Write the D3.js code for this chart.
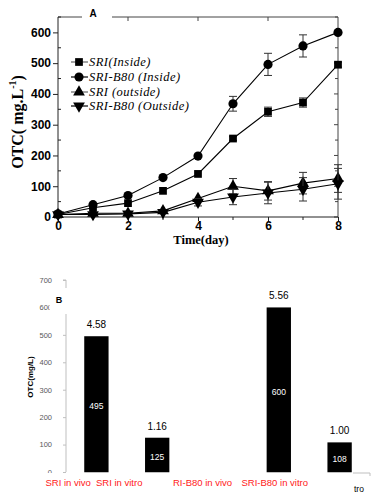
<!DOCTYPE html>
<html>
<head>
<meta charset="utf-8">
<script src="https://cdn.jsdelivr.net/npm/d3@7/dist/d3.min.js"></script>
<style>
  html, body { margin: 0; padding: 0; background: #fff; }
  svg { display: block; }
</style>
</head>
<body>
<svg id="chart" width="377" height="500"></svg>
<script>
// Panel A: OTC over time
const days = [0, 1, 2, 3, 4, 5, 6, 7, 8];
const sriInside = [8, 30, 45, 85, 140, 255, 342, 372, 495];
const sriInsideErr = [0, 0, 0, 0, 0, 6, 15, 15, 8];
const b80Inside = [10, 40, 70, 128, 198, 368, 496, 556, 600];
const b80InsideErr = [0, 0, 0, 0, 0, 24, 36, 36, 0];
const sriOutside = [8, 12, 12, 20, 60, 100, 85, 110, 125];
const sriOutsideErr = [0, 0, 0, 0, 0, 25, 30, 35, 45];
const b80Outside = [8, 8, 10, 15, 48, 65, 78, 90, 108];
const b80OutsideErr = [0, 0, 0, 0, 12, 25, 35, 38, 50];
const seriesNames = ['SRI(Inside)', 'SRI-B80 (Inside)', 'SRI (outside)', 'SRI-B80 (Outside)'];

// Panel B: bars
const barSlots = ['SRI in vivo', 'SRI in vitro', 'SRI-B80 in vivo', 'SRI-B80 in vitro (a)', 'SRI-B80 in vitro (b)'];
const barValues = [495, 125, null, 600, 108];
const barRatios = ['4.58', '1.16', null, '5.56', '1.00'];
const redLabels = ['SRI in vivo', 'SRI in vitro', 'RI-B80 in vivo', 'SRI-B80 in vitro'];
const yTicksB = [0, 100, 200, 300, 400, 500, 600, 700];

const svg = d3.select('#chart');

// ---------- Panel A ----------
const gA = svg.append('g');
const x = d3.scaleLinear().domain([0, 8]).range([58, 338]);
const y = d3.scaleLinear().domain([0, 650]).range([217, 17]);

const series = [
  { name: seriesNames[0], vals: sriInside, err: sriInsideErr, sym: d3.symbolSquare, size: 60, rot: 0, legendStroke: '#666' },
  { name: seriesNames[1], vals: b80Inside, err: b80InsideErr, sym: d3.symbolCircle, size: 66, rot: 0, legendStroke: '#000' },
  { name: seriesNames[2], vals: sriOutside, err: sriOutsideErr, sym: d3.symbolTriangle, size: 60, rot: 0, legendStroke: '#666' },
  { name: seriesNames[3], vals: b80Outside, err: b80OutsideErr, sym: d3.symbolTriangle, size: 60, rot: 180, legendStroke: '#000' },
];

// frame: top and right
gA.append('path')
  .attr('d', `M${x(0)},${y(650)}H82M112,${y(650)}H${x(8)}V${y(0)}`)
  .attr('fill', 'none').attr('stroke', '#444').attr('stroke-width', 1);

// right inner ticks
d3.range(0, 651, 50).forEach((v) => {
  gA.append('line')
    .attr('x1', x(8)).attr('x2', x(8) - (v % 100 === 0 ? 4 : 3))
    .attr('y1', y(v)).attr('y2', y(v))
    .attr('stroke', '#444');
});
// top inner ticks
[2, 4, 6].forEach((d) => {
  gA.append('line')
    .attr('x1', x(d)).attr('x2', x(d))
    .attr('y1', y(650)).attr('y2', y(650) + 4)
    .attr('stroke', '#444');
});

const axisLeft = d3.axisLeft(y).tickValues(d3.range(0, 601, 100)).tickSize(5).tickPadding(2);
const gyA = gA.append('g').attr('transform', `translate(${x(0)},0)`).call(axisLeft);
gyA.select('.domain').attr('d', `M0,${y(0)}V${y(650)}`).attr('stroke', '#222');
gyA.selectAll('.tick line').attr('stroke', '#222');
gyA.selectAll('.tick text')
  .attr('font-family', 'Liberation Sans, Arial, sans-serif')
  .attr('font-weight', 'bold').attr('font-size', 12).attr('fill', '#000');
d3.range(50, 651, 100).forEach((v) => {
  gA.append('line').attr('x1', x(0)).attr('x2', x(0) + 3)
    .attr('y1', y(v)).attr('y2', y(v)).attr('stroke', '#222');
});

const axisBottom = d3.axisBottom(x).tickValues([0, 2, 4, 6, 8]).tickSize(4).tickPadding(0).tickFormat(d3.format('d'));
const gxA = gA.append('g').attr('transform', `translate(0,${y(0)})`).call(axisBottom);
gxA.select('.domain').attr('d', `M${x(0)},0H${x(8)}`).attr('stroke', '#222');
gxA.selectAll('.tick line').attr('stroke', '#222');
gxA.selectAll('.tick text')
  .attr('font-family', 'Liberation Sans, Arial, sans-serif')
  .attr('font-weight', 'bold').attr('font-size', 12).attr('fill', '#000');
[1, 3, 5, 7].forEach((d) => {
  gA.append('line').attr('x1', x(d)).attr('x2', x(d))
    .attr('y1', y(0)).attr('y2', y(0) + 3).attr('stroke', '#222');
});

gA.append('text')
  .attr('x', 93).attr('y', 17)
  .attr('text-anchor', 'middle')
  .attr('font-family', 'Liberation Sans, Arial, sans-serif')
  .attr('font-weight', 'bold').attr('font-size', 10)
  .text('A');

// axis titles
const yTitle = gA.append('text')
  .attr('transform', 'translate(23,122) rotate(-90)')
  .attr('text-anchor', 'middle')
  .attr('font-family', 'Liberation Serif, Times New Roman, serif')
  .attr('font-weight', 'bold').attr('font-size', 16);
yTitle.append('tspan').text('OTC( mg.L');
yTitle.append('tspan').attr('font-size', 10).attr('dy', -7).text('-1');
yTitle.append('tspan').attr('dy', 7).text(')');

gA.append('text')
  .attr('x', 201).attr('y', 244)
  .attr('text-anchor', 'middle')
  .attr('font-family', 'Liberation Serif, Times New Roman, serif')
  .attr('font-weight', 'bold').attr('font-size', 12.5)
  .text('Time(day)');

const line = d3.line().x((d, i) => x(days[i])).y(d => y(d));

series.forEach((s) => {
  // error bars
  s.vals.forEach((v, i) => {
    const e = s.err[i];
    if (!e) return;
    const cx = x(days[i]);
    gA.append('path')
      .attr('d', `M${cx},${y(v - e)}V${y(v + e)}M${cx - 4},${y(v + e)}H${cx + 4}M${cx - 4},${y(v - e)}H${cx + 4}`)
      .attr('fill', 'none').attr('stroke', '#333').attr('stroke-width', 1);
  });
  gA.append('path')
    .datum(s.vals)
    .attr('d', line)
    .attr('fill', 'none').attr('stroke', '#000').attr('stroke-width', 1.1);
  gA.selectAll(null)
    .data(s.vals)
    .enter().append('path')
      .attr('d', d3.symbol().type(s.sym).size(s.size))
      .attr('transform', (d, i) => `translate(${x(days[i])},${y(d)}) rotate(${s.rot})`)
      .attr('fill', '#000');
});

// legend
const legendRows = [62, 77, 92, 106];
series.forEach((s, i) => {
  const ly = legendRows[i];
  gA.append('line').attr('x1', 71).attr('x2', 88).attr('y1', ly).attr('y2', ly)
    .attr('stroke', s.legendStroke).attr('stroke-width', 1.2);
  gA.append('path')
    .attr('d', d3.symbol().type(s.sym).size(s.size))
    .attr('transform', `translate(79,${ly}) rotate(${s.rot})`)
    .attr('fill', '#000');
  gA.append('text')
    .attr('x', 89).attr('y', ly + 4)
    .attr('font-family', 'Liberation Serif, Times New Roman, serif')
    .attr('font-style', 'italic').attr('font-size', 12.5)
    .attr('letter-spacing', 0.45)
    .text(s.name);
});

// ---------- Panel B ----------
const gB = svg.append('g');
const xB = d3.scaleBand().domain(barSlots).range([66, 370]).paddingInner(0.6).paddingOuter(0.3);
const yB = d3.scaleLinear().domain([0, 700]).range([472, 280]);

const axisB = d3.axisLeft(yB).tickValues(yTicksB).tickSize(3).tickPadding(11);
const gyB = gB.append('g').attr('transform', 'translate(66,0)').call(axisB);
gyB.select('.domain').attr('d', `M-3,${yB(700)}H0V${yB(0)}`).attr('stroke', '#bfbfbf');
gyB.selectAll('.tick line').attr('stroke', '#bfbfbf');
gyB.selectAll('.tick text')
  .attr('font-family', 'Liberation Sans, Arial, sans-serif')
  .attr('font-size', 7.5).attr('fill', '#595959');

gB.append('text')
  .attr('transform', `translate(33,${(yB(0) + yB(700)) / 2 + 1}) rotate(-90)`)
  .attr('text-anchor', 'middle')
  .attr('font-family', 'Liberation Sans, Arial, sans-serif')
  .attr('font-weight', 'bold').attr('font-size', 8)
  .text('OTC(mg/L)');

// white patch behind "B"
gB.append('rect').attr('x', 49.5).attr('y', 288).attr('width', 24).attr('height', 26).attr('fill', '#fff');
gB.append('text')
  .attr('x', 59).attr('y', 302.5)
  .attr('text-anchor', 'middle')
  .attr('font-family', 'Liberation Sans, Arial, sans-serif')
  .attr('font-weight', 'bold').attr('font-size', 9)
  .text('B');

const bars = barSlots.map((k, i) => ({ k, v: barValues[i], r: barRatios[i] })).filter(d => d.v !== null);

gB.selectAll('.bar')
  .data(bars)
  .enter().append('rect')
    .attr('class', 'bar')
    .attr('x', d => xB(d.k))
    .attr('y', d => yB(d.v))
    .attr('width', xB.bandwidth())
    .attr('height', d => yB(0) - yB(d.v))
    .attr('fill', '#000');

gB.selectAll('.bar-base')
  .data(bars)
  .enter().append('line')
    .attr('x1', d => xB(d.k)).attr('x2', d => xB(d.k) + xB.bandwidth())
    .attr('y1', yB(0) + 0.5).attr('y2', yB(0) + 0.5)
    .attr('stroke', '#bfbfbf');

gB.selectAll('.ratio')
  .data(bars)
  .enter().append('text')
    .attr('x', d => xB(d.k) + xB.bandwidth() / 2)
    .attr('y', d => yB(d.v) - 8)
    .attr('text-anchor', 'middle')
    .attr('font-family', 'Liberation Sans, Arial, sans-serif')
    .attr('font-size', 10).attr('fill', '#000')
    .text(d => d.r);

gB.selectAll('.inner')
  .data(bars)
  .enter().append('text')
    .attr('x', d => xB(d.k) + xB.bandwidth() / 2)
    .attr('y', d => (yB(d.v) + yB(0)) / 2 + 5)
    .attr('text-anchor', 'middle')
    .attr('font-family', 'Liberation Sans, Arial, sans-serif')
    .attr('font-size', 8.5).attr('fill', '#fff')
    .text(d => d.v);

// cover below the plot (pasted label strip)
gB.append('rect').attr('x', 0).attr('y', yB(0) + 1).attr('width', 353).attr('height', 30).attr('fill', '#fff');
// visible piece of the x axis
gB.append('path')
  .attr('d', `M353,${yB(0) + 1}H370V${yB(0) + 4}`)
  .attr('fill', 'none').attr('stroke', '#bfbfbf');

const redX = [45.5, 96, 173, 241.5];
gB.selectAll('.cat')
  .data(redLabels)
  .enter().append('text')
    .attr('x', (d, i) => redX[i])
    .attr('y', 486)
    .attr('font-family', 'Liberation Sans, Arial, sans-serif')
    .attr('font-size', 9.5).attr('fill', '#ff2020')
    .text(d => d);

gB.append('text')
  .attr('x', 354).attr('y', 492)
  .attr('font-family', 'Liberation Sans, Arial, sans-serif')
  .attr('font-size', 8.5).attr('fill', '#000')
  .text('tro');
</script>
</body>
</html>
